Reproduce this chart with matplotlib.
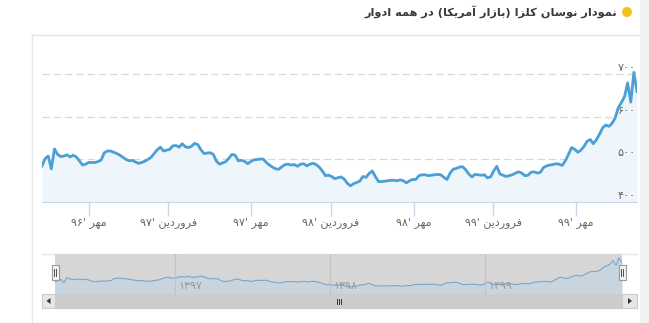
import matplotlib
matplotlib.use('Agg')
import matplotlib.pyplot as plt
import matplotlib.dates as mdates
from matplotlib.patches import Rectangle, Circle, Polygon
import pandas as pd

W, H = 649, 323

# weekly canola price (US market)
start_date = '2017-06-10'
canola_prices = [
    485, 502, 508, 478, 525, 512, 507, 508, 511, 506,
    510, 506, 497, 487, 489, 493, 493, 493, 495, 499,
    516, 520, 520, 517, 514, 510, 505, 500, 497, 498,
    494, 491, 493, 496, 500, 505, 514, 523, 529, 520,
    522, 524, 532, 533, 529, 537, 530, 528, 531, 538,
    535, 523, 514, 515, 516, 512, 496, 489, 492, 495,
    503, 512, 510, 497, 498, 496, 490, 495, 499, 500,
    501, 501, 493, 487, 482, 478, 477, 483, 488, 489,
    487, 488, 484, 489, 490, 485, 489, 491, 488, 482,
    473, 462, 463, 460, 455, 457, 459, 454, 444, 438,
    443, 446, 449, 460, 458, 467, 473, 460, 448, 448,
    449, 450, 451, 451, 450, 452, 450, 445, 450, 453,
    453, 462, 464, 464, 462, 463, 464, 465, 464, 458,
    453, 468, 477, 479, 482, 483, 476, 466, 459, 465,
    464, 463, 464, 457, 459, 473, 484, 466, 463, 460,
    462, 464, 468, 471, 468, 462, 463, 470, 471, 468,
    470, 481, 485, 487, 488, 490, 489, 486, 497, 512,
    528, 524, 517, 522, 531, 543, 547, 537, 547, 560,
    575, 581, 578, 585, 598, 622, 634, 648, 680, 635,
    705, 660,
]

tick_dates = ['2017-09-23', '2018-03-21', '2018-09-23', '2019-03-21',
              '2019-09-23', '2020-03-20', '2020-09-22']
tick_months = ['مهر', 'فروردین', 'مهر', 'فروردین', 'مهر', 'فروردین', 'مهر']
tick_years = ['۹۶', '۹۷', '۹۷', '۹۸', '۹۸', '۹۹', '۹۹']

y_ticks = [400, 500, 600, 700]
y_labels = ['۴۰۰', '۵۰۰', '۶۰۰', '۷۰۰']

nav_year_dates = ['2018-03-21', '2019-03-21', '2020-03-20']
nav_year_labels = ['۱۳۹۷', '۱۳۹۸', '۱۳۹۹']

title = 'نمودار نوسان کلزا (بازار آمریکا) در همه ادوار'

# persian shaping by hand (matplotlib has no bidi / shaping)
FORMS = {
    'ا': ('\uFE8D', '\uFE8E'),
    'آ': ('\uFE81', '\uFE82'),
    'د': ('\uFEA9', '\uFEAA'),
    'ر': ('\uFEAD', '\uFEAE'),
    'ز': ('\uFEAF', '\uFEB0'),
    'و': ('\uFEED', '\uFEEE'),
    'ب': ('\uFE8F', '\uFE90', '\uFE91', '\uFE92'),
    'س': ('\uFEB1', '\uFEB2', '\uFEB3', '\uFEB4'),
    'ف': ('\uFED1', '\uFED2', '\uFED3', '\uFED4'),
    'ک': ('\uFB8E', '\uFB8F', '\uFEDB', '\uFEDC'),
    'ل': ('\uFEDD', '\uFEDE', '\uFEDF', '\uFEE0'),
    'م': ('\uFEE1', '\uFEE2', '\uFEE3', '\uFEE4'),
    'ن': ('\uFEE5', '\uFEE6', '\uFEE7', '\uFEE8'),
    'ه': ('\uFEE9', '\uFEEA', '\uFEEB', '\uFEEC'),
    'ی': ('\uFBFC', '\uFBFD', '\uFEF3', '\uFEF4'),
}


def shape(text):
    out = []
    for i, ch in enumerate(text):
        f = FORMS.get(ch)
        if f is None:
            out.append(ch)
            continue
        prev = text[i - 1] if i > 0 else ''
        nxt = text[i + 1] if i < len(text) - 1 else ''
        join_prev = prev in FORMS and len(FORMS[prev]) == 4
        join_next = len(f) == 4 and nxt in FORMS
        if join_prev and join_next:
            out.append(f[3])
        elif join_prev:
            out.append(f[1])
        elif join_next:
            out.append(f[2])
        else:
            out.append(f[0])
    return ''.join(out)


def rtl(text):
    swap = {'(': ')', ')': '('}
    return ''.join(swap.get(c, c) for c in reversed(shape(text)))


def box(x0, y0, x1, y1):
    return [x0 / W, 1 - y1 / H, (x1 - x0) / W, (y1 - y0) / H]


dates = pd.date_range(start_date, periods=len(canola_prices), freq='7D')
xmin, xmax = dates[0], dates[-1]

fig = plt.figure(figsize=(W / 100, H / 100), dpi=100)
fig.patch.set_facecolor('white')

# page / card decoration
bg = fig.add_axes([0, 0, 1, 1], zorder=0)
bg.set_xlim(0, W)
bg.set_ylim(H, 0)
bg.axis('off')
bg.add_patch(Rectangle((640, 0), 9, H, color='#f2f2f2', lw=0))
bg.plot([32, 640], [35, 35], color='#e3e3e3', lw=1)
bg.plot([32, 32], [35, H], color='#e8e8e8', lw=1)
bg.add_patch(Circle((627, 12), 5, color='#f0c419', lw=0))
bg.text(617, 12, rtl(title), ha='right', va='center', fontsize=8.2,
        fontweight='semibold', color='#3a3a3a', family='DejaVu Sans')

# main chart
ax = fig.add_axes(box(42, 60, 637, 202), zorder=1)
ax.patch.set_alpha(0)
ax.fill_between(dates, canola_prices, 400, color='#eef6fc', lw=0)
ax.plot(dates, canola_prices, color='#4a9fd6', lw=2.0, solid_joinstyle='round')
ax.set_xlim(xmin, xmax)
ax.set_ylim(400, 734)
for v in y_ticks[1:]:
    ax.axhline(v, color='#d9d9d9', lw=0.9, ls=(0, (6, 3)), zorder=0)
for v, lab in zip(y_ticks, y_labels):
    ax.annotate(lab, xy=(1.0, v), xycoords=ax.get_yaxis_transform(),
                xytext=(-1, 6), textcoords='offset pixels', ha='right',
                va='center', fontsize=8, color='#666666')
for s in ['left', 'right', 'top']:
    ax.spines[s].set_visible(False)
ax.spines['bottom'].set_color('#ccd6eb')
ax.set_yticks([])
ax.set_xticks(pd.to_datetime(tick_dates))
ax.set_xticklabels([y + "' " + rtl(m) for y, m in zip(tick_years, tick_months)])
ax.tick_params(axis='x', direction='out', length=10, width=1, color='#ccd6eb',
               labelsize=8, labelcolor='#666666', pad=1)

# navigator
bg.plot([42, 637], [254, 254], color='#e6e6e6', lw=1)
nav = fig.add_axes(box(55, 254, 622, 294), zorder=1)
nav.set_facecolor('#d6d6d6')
nav.fill_between(dates, canola_prices, 376, color='#c9d5de', lw=0)
nav.plot(dates, canola_prices, color='#7aa6cc', lw=0.8)
for d, lab in zip(pd.to_datetime(nav_year_dates), nav_year_labels):
    dn = mdates.date2num(d)
    nav.axvline(dn, color='#c2c2c2', lw=0.8)
    nav.annotate(lab, xy=(dn, 0.2), xycoords=nav.get_xaxis_transform(),
                 xytext=(3, 0), textcoords='offset pixels', ha='left',
                 va='center', fontsize=8, color='#999999')
nav.set_xlim(xmin, xmax)
nav.set_ylim(376, 739)
nav.set_xticks([])
nav.set_yticks([])
for s in nav.spines.values():
    s.set_visible(False)

# handles and scrollbar on top
top = fig.add_axes([0, 0, 1, 1], zorder=5)
top.set_xlim(0, W)
top.set_ylim(H, 0)
top.axis('off')
top.add_patch(Rectangle((42, 294), 13, 14, facecolor='#e6e6e6', edgecolor='#cccccc', lw=0.8))
top.add_patch(Rectangle((55, 294), 567, 14, facecolor='#cccccc', edgecolor='#cccccc', lw=0.8))
top.add_patch(Rectangle((622, 294), 15, 14, facecolor='#e6e6e6', edgecolor='#cccccc', lw=0.8))
top.add_patch(Polygon([[46.5, 301], [50.5, 298], [50.5, 304]], color='#333333', lw=0))
top.add_patch(Polygon([[632, 301], [628, 298], [628, 304]], color='#333333', lw=0))
for gx in [336.5, 338.5, 340.5]:
    top.plot([gx, gx], [298.5, 303.5], color='#333333', lw=0.7)
for hx in [55, 622]:
    top.add_patch(Rectangle((hx - 3.5, 265), 7, 15, facecolor='#f2f2f2',
                            edgecolor='#999999', lw=0.8))
    for lx in [hx - 1, hx + 1]:
        top.plot([lx, lx], [269, 276], color='#333333', lw=0.6)

fig.savefig('out.png', dpi=100)
